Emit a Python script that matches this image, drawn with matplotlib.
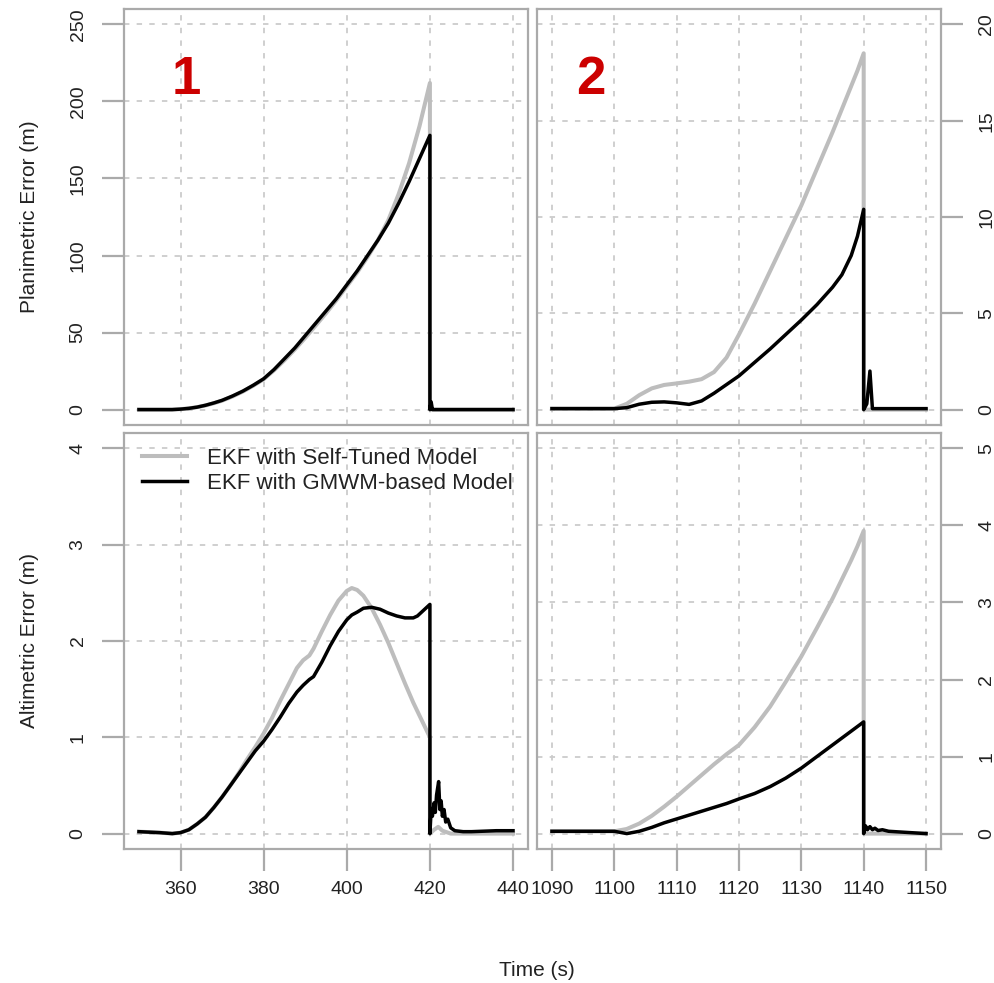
import matplotlib
matplotlib.use("Agg")
import matplotlib.pyplot as plt

plt.rcParams["font.family"] = ["Liberation Sans", "DejaVu Sans"]

# ---------------- data ----------------
# Segment 1 (t = 350 .. 440 s)
t1 = [350, 355, 358, 360, 362, 364, 366, 368, 370, 372.5, 375, 377.5, 380, 382.5,
      385, 387.5, 390, 392.5, 395, 397.5, 400, 402.5, 405, 407.5, 410, 412.5,
      415, 417.5, 420]
plan1_self = [0, 0, 0, 0.3, 0.8, 1.6, 2.7, 4.1, 5.8, 8.5, 11.7, 15.5, 19.7, 25.5,
              32, 39, 46.5, 54.5, 62.5, 71, 80, 89, 99, 110, 123, 140,
              160, 184, 212]
plan1_gmwm = [0, 0, 0, 0.3, 0.8, 1.6, 2.8, 4.3, 6, 8.8, 12, 15.8, 20, 26,
              33, 40, 48, 56, 64, 72, 81, 90, 100, 110, 121, 134,
              148, 163, 178]
t1_tail_plan_gmwm = [420, 420.3, 420.6, 421, 440]
plan1_tail_gmwm = [0, 5, 0, 0, 0]
t1_tail_plan_self = [420, 440]
plan1_tail_self = [0, 0]

t1a = [350, 355, 358, 360, 362, 364, 366, 368, 370, 372, 374, 376, 378, 380, 382,
       384, 386, 388, 389.5, 391, 392, 394, 396, 398, 400, 401.2, 402.5, 404,
       406, 408, 410, 412, 414, 416, 417, 418, 419, 420]
alt1_self = [0.02, 0.01, 0.0, 0.01, 0.04, 0.1, 0.17, 0.27, 0.38, 0.5, 0.63, 0.77,
             0.9, 1.04, 1.2, 1.38, 1.55, 1.72, 1.8, 1.85, 1.92, 2.1, 2.27, 2.42,
             2.52, 2.55, 2.53, 2.47, 2.34, 2.17, 1.98, 1.77, 1.56, 1.36, 1.27,
             1.18, 1.09, 1.0]
alt1_gmwm = [0.02, 0.01, 0.0, 0.01, 0.04, 0.1, 0.17, 0.27, 0.38, 0.5, 0.62, 0.74,
             0.86, 0.96, 1.08, 1.21, 1.35, 1.47, 1.54, 1.6, 1.63, 1.78, 1.95, 2.1,
             2.22, 2.27, 2.3, 2.34, 2.35, 2.33, 2.29, 2.26, 2.24, 2.24, 2.26,
             2.3, 2.34, 2.38]
t1_tail_alt_gmwm = [420, 420.3, 420.6, 421, 421.3, 421.6, 422.1, 422.4, 422.7, 423,
                    423.4, 423.8, 424.3, 425, 426, 428, 430, 433, 436, 440]
alt1_tail_gmwm = [0, 0.25, 0.18, 0.32, 0.22, 0.4, 0.54, 0.25, 0.34, 0.18, 0.25,
                  0.12, 0.15, 0.06, 0.03, 0.02, 0.02, 0.025, 0.03, 0.03]
t1_tail_alt_self = [420, 421, 422, 423, 425, 440]
alt1_tail_self = [0, 0.04, 0.07, 0.03, 0.0, 0.0]

# Segment 2 (t = 1090 .. 1150 s)
t2 = [1090, 1095, 1100, 1102, 1104, 1106, 1108, 1110, 1112, 1114, 1116, 1118,
      1120, 1122.5, 1125, 1127.5, 1130, 1132.5, 1135, 1136.5, 1138, 1139, 1140]
plan2_self = [0.05, 0.05, 0.05, 0.3, 0.75, 1.1, 1.28, 1.36, 1.45, 1.58, 1.95, 2.7,
              3.9, 5.5, 7.2, 8.9, 10.6, 12.5, 14.4, 15.6, 16.8, 17.6, 18.5]
plan2_gmwm = [0.05, 0.05, 0.05, 0.1, 0.28, 0.38, 0.4, 0.35, 0.27, 0.45, 0.85, 1.3,
              1.75, 2.45, 3.15, 3.9, 4.65, 5.45, 6.35, 7.0, 8.0, 9.0, 10.4]
t2_tail_plan_gmwm = [1140, 1140.5, 1141, 1141.4, 1150]
plan2_tail_gmwm = [0, 0.3, 2.0, 0.05, 0.05]
t2_tail_plan_self = [1140, 1150]
plan2_tail_self = [0, 0]

alt2_self = [0.03, 0.03, 0.03, 0.06, 0.13, 0.23, 0.35, 0.48, 0.62, 0.76, 0.9, 1.03,
             1.15, 1.38, 1.65, 1.97, 2.3, 2.67, 3.05, 3.3, 3.55, 3.73, 3.93]
alt2_gmwm = [0.03, 0.03, 0.03, 0.0, 0.03, 0.08, 0.14, 0.19, 0.24, 0.29, 0.34, 0.39,
             0.45, 0.52, 0.61, 0.72, 0.85, 1.0, 1.15, 1.24, 1.33, 1.39, 1.45]
t2_tail_alt_gmwm = [1140, 1140.3, 1140.6, 1141, 1141.4, 1141.8, 1142.3, 1143, 1144,
                    1146, 1150]
alt2_tail_gmwm = [0, 0.1, 0.05, 0.09, 0.05, 0.07, 0.04, 0.05, 0.03, 0.02, 0.0]
t2_tail_alt_self = [1140, 1150]
alt2_tail_self = [0, 0]

xticks1 = [360, 380, 400, 420, 440]
xticks2 = [1090, 1100, 1110, 1120, 1130, 1140, 1150]
yticks_plan1 = [0, 50, 100, 150, 200, 250]
yticks_plan2 = [0, 5, 10, 15, 20]
yticks_alt1 = [0, 1, 2, 3, 4]
yticks_alt2 = [0, 1, 2, 3, 4, 5]

labels = ["EKF with Self-Tuned Model", "EKF with GMWM-based Model"]

# ---------------- style ----------------
GRAY = "#bdbdbd"
BLACK = "#000000"
FRAME = "#aaaaaa"
GRID = "#cccccc"
W, H = 994, 983

fig = plt.figure(figsize=(W / 100, H / 100), dpi=100)


def make_ax(x0, y0, x1, y1):
    return fig.add_axes([x0 / W, 1 - y1 / H, (x1 - x0) / W, (y1 - y0) / H])


ax_tl = make_ax(124, 9, 528, 425)
ax_tr = make_ax(537, 9, 941, 425)
ax_bl = make_ax(124, 433, 528, 849)
ax_br = make_ax(537, 433, 941, 849)


def style(ax, xticks, yticks, xlim, ylim, show_x, yside):
    ax.set_xlim(*xlim)
    ax.set_ylim(*ylim)
    ax.set_xticks(xticks)
    ax.set_yticks(yticks)
    ax.set_yticklabels([str(v) for v in yticks])
    ax.grid(True, color=GRID, linestyle=(0, (3, 4)), linewidth=1.3)
    ax.set_axisbelow(True)
    for s in ax.spines.values():
        s.set_color(FRAME)
        s.set_linewidth(1.6)
    ax.tick_params(colors="#222222", labelsize=14)
    ax.tick_params(axis="both", which="both", color=FRAME, width=1.6,
                   length=16, direction="out")
    if show_x:
        ax.tick_params(axis="x", pad=7)
    else:
        ax.tick_params(axis="x", length=0, labelbottom=False)
    if yside == "left":
        ax.tick_params(axis="y", left=True, right=False, labelleft=True,
                       labelright=False, pad=11)
    else:
        ax.tick_params(axis="y", left=False, right=True, labelleft=False,
                       labelright=True, pad=11)
    for lab in ax.get_yticklabels():
        lab.set_rotation(90)
        lab.set_va("center")


xlim1 = (346.4, 443.6)
xlim2 = (1087.6, 1152.4)

style(ax_tl, xticks1, yticks_plan1, xlim1, (-10, 260), False, "left")
style(ax_tr, xticks2, yticks_plan2, xlim2, (-0.8, 20.8), False, "right")
style(ax_bl, xticks1, yticks_alt1, xlim1, (-0.16, 4.16), True, "left")
style(ax_br, xticks2, yticks_alt2, xlim2, (-0.2, 5.2), True, "right")

LW_G, LW_K = 2.9, 2.5

# panel 1, planimetric
ax_tl.plot(t1 + t1_tail_plan_self, plan1_self + plan1_tail_self, color=GRAY, lw=LW_G)
ax_tl.plot(t1 + t1_tail_plan_gmwm, plan1_gmwm + plan1_tail_gmwm, color=BLACK, lw=LW_K)

# panel 2, planimetric
ax_tr.plot(t2 + t2_tail_plan_self, plan2_self + plan2_tail_self, color=GRAY, lw=LW_G)
ax_tr.plot(t2 + t2_tail_plan_gmwm, plan2_gmwm + plan2_tail_gmwm, color=BLACK, lw=LW_K)

# panel 1, altimetric
ax_bl.plot(t1a + t1_tail_alt_self, alt1_self + alt1_tail_self, color=GRAY, lw=LW_G,
           label=labels[0])
ax_bl.plot(t1a + t1_tail_alt_gmwm, alt1_gmwm + alt1_tail_gmwm, color=BLACK, lw=LW_K,
           label=labels[1])

# panel 2, altimetric
ax_br.plot(t2 + t2_tail_alt_self, alt2_self + alt2_tail_self, color=GRAY, lw=LW_G)
ax_br.plot(t2 + t2_tail_alt_gmwm, alt2_gmwm + alt2_tail_gmwm, color=BLACK, lw=LW_K)

leg = ax_bl.legend(loc="upper left", bbox_to_anchor=(0.045, 0.965), frameon=False,
                   fontsize=16, handlelength=2.0, handletextpad=0.9,
                   labelspacing=0.2, borderpad=0, borderaxespad=0)
for t in leg.get_texts():
    t.set_color("#222222")

# shared labels
fig.text(30 / W, 1 - 217 / H, "Planimetric Error (m)", rotation=90, ha="center",
         va="center", fontsize=15, color="#222222")
fig.text(30 / W, 1 - 641 / H, "Altimetric Error (m)", rotation=90, ha="center",
         va="center", fontsize=15, color="#222222")
fig.text(537 / W, 1 - 970 / H, "Time (s)", ha="center", va="center", fontsize=15,
         color="#222222")

# segment numbers
fig.text(186 / W, 1 - 80 / H, "1", ha="center", va="center", fontsize=38,
         fontweight="bold", color="#cc0000")
fig.text(591 / W, 1 - 80 / H, "2", ha="center", va="center", fontsize=38,
         fontweight="bold", color="#cc0000")

fig.savefig("out.png", dpi=100)
